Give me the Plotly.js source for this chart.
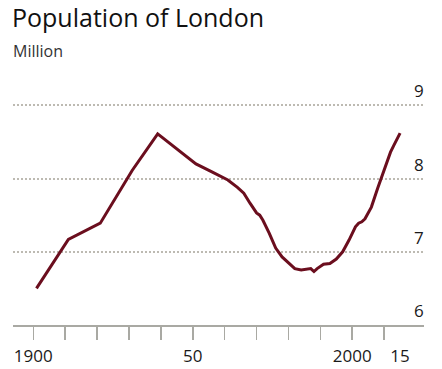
<!DOCTYPE html>
<html>
<head>
<meta charset="utf-8">
<script src="https://cdn.plot.ly/plotly-3.0.1.min.js"></script>
<style>html,body{margin:0;padding:0;background:#fff;}#chart{width:442px;height:369px;}</style>
</head>
<body>
<div id="chart"></div>
<script>
const years = [1901, 1911, 1921, 1931, 1939, 1951, 1956, 1959, 1961, 1964, 1966, 1968, 1970, 1971, 1972, 1974, 1976, 1978, 1980, 1982, 1984, 1986, 1987, 1988, 1989, 1991, 1993, 1995, 1997, 1999, 2001, 2002, 2003, 2004, 2006, 2008, 2010, 2011, 2012, 2013, 2015];
const population = [6.50, 7.17, 7.39, 8.11, 8.61, 8.20, 8.09, 8.02, 7.98, 7.88, 7.80, 7.66, 7.53, 7.50, 7.43, 7.25, 7.05, 6.93, 6.85, 6.77, 6.75, 6.77, 6.77, 6.73, 6.77, 6.83, 6.84, 6.90, 7.00, 7.16, 7.34, 7.39, 7.41, 7.45, 7.61, 7.87, 8.13, 8.25, 8.36, 8.45, 8.62];
const tickYears = [1900, 1910, 1920, 1930, 1940, 1950, 1960, 1970, 1980, 1990, 2000, 2010];
const labelYears = [1900, 1950, 2000, 2015];
const labelText = ["1900", "50", "2000", "15"];
const yTicks = [6, 7, 8, 9];

const xRange = [1893.64, 2022.5];
const data = [
  {x: years, y: population, type: 'scatter', mode: 'lines',
   line: {color: '#6b0e1e', width: 3}, hoverinfo: 'skip', xaxis: 'x', yaxis: 'y'},
  {x: labelYears, y: labelYears.map(() => 6), type: 'scatter', mode: 'none',
   xaxis: 'x2', yaxis: 'y', showlegend: false, hoverinfo: 'skip'}
];
const layout = {
  width: 442, height: 369,
  margin: {l: 13, r: 18, t: 87, b: 44},
  paper_bgcolor: '#ffffff', plot_bgcolor: '#ffffff',
  showlegend: false,
  font: {family: 'Open Sans, sans-serif', color: '#1a1a1a'},
  title: {text: 'Population of London', font: {size: 25, color: '#111'},
          x: 12/442, xanchor: 'left', xref: 'container', y: 1 - 9/369, yanchor: 'top', yref: 'container'},
  xaxis: {range: xRange, tickvals: tickYears, showticklabels: false,
          ticks: 'outside', ticklen: 13, tickwidth: 1.5, tickcolor: '#a9a9a3',
          showline: true, linecolor: '#a9a9a3', linewidth: 2,
          showgrid: false, zeroline: false, fixedrange: true},
  xaxis2: {range: xRange, overlaying: 'x', anchor: 'y', side: 'bottom',
           tickvals: labelYears, ticktext: labelText, ticks: '', ticklabelstandoff: 19,
           tickfont: {size: 17, color: '#1a1a1a'},
           showline: false, showgrid: false, zeroline: false, fixedrange: true},
  yaxis: {range: [6, 9.25], tickvals: yTicks, showticklabels: false, ticks: '',
          showgrid: true, gridcolor: '#bdbab2', gridwidth: 2, griddash: '2px,2px',
          zeroline: false, showline: false, fixedrange: true},
  annotations: [
    {text: 'Million', xref: 'paper', yref: 'paper', x: 0, y: 1 + 23/238,
     xanchor: 'left', yanchor: 'bottom', xshift: -2, showarrow: false, font: {size: 16, color: '#333'}}
  ].concat(yTicks.map(v => ({
     text: String(v), xref: 'paper', yref: 'y', x: 1, y: v, xanchor: 'right', yanchor: 'bottom',
     yshift: 1, xshift: 2, showarrow: false, font: {size: 17, color: '#1a1a1a'}})))
};
Plotly.newPlot('chart', data, layout, {displayModeBar: false, staticPlot: true});
</script>
</body>
</html>
